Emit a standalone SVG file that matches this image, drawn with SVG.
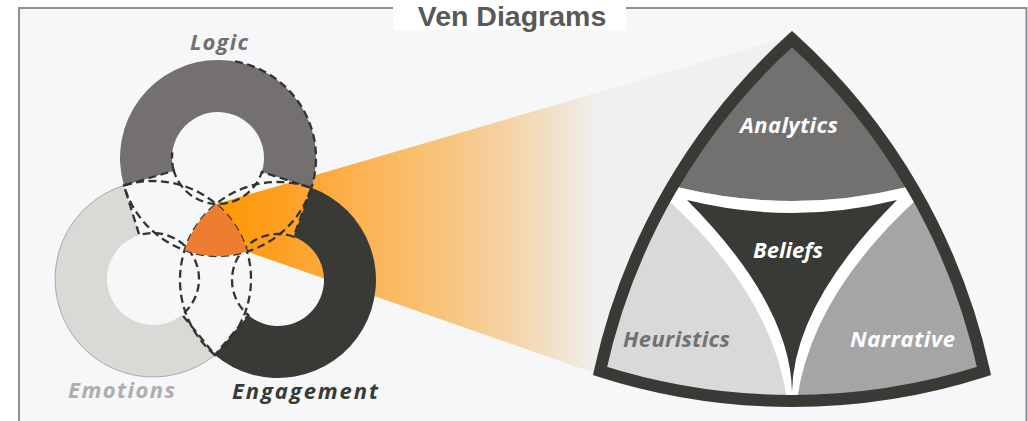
<svg xmlns="http://www.w3.org/2000/svg" width="1028" height="421" viewBox="0 0 1028 421">
  <defs>
    <style>
      .lbl { font-family: "Open Sans", "Liberation Sans", sans-serif; font-weight: 700; font-style: italic; font-size: 22px; }
      .dash { fill: none; stroke: #333333; stroke-width: 2.3; stroke-dasharray: 8 4.5; }
    </style>
    <linearGradient id="beamGrad" gradientUnits="userSpaceOnUse" x1="216" y1="0" x2="600" y2="0">
      <stop offset="0" stop-color="#ff9800"/>
      <stop offset="0.15" stop-color="#fd9e1e"/>
      <stop offset="0.4" stop-color="#fbb557"/>
      <stop offset="0.6" stop-color="#f8c47e"/>
      <stop offset="0.8" stop-color="#f4d7b0"/>
      <stop offset="1" stop-color="#f0f0f0"/>
    </linearGradient>
    <clipPath id="triClip">
      <path d="M792,39 A630,630 0 0 0 600,371 A630,630 0 0 0 984,371 A630,630 0 0 0 792,39 Z"/>
    </clipPath>
  </defs>

  <g id="frame">
    <rect x="19" y="8" width="1007.5" height="430" fill="#f6f7f9" stroke="#8b9095" stroke-width="2"/>
    <rect x="393" y="0" width="233" height="30" fill="#ffffff"/>
    <text x="512" y="26" text-anchor="middle" font-family="Liberation Sans, Arial, sans-serif" font-weight="700" font-size="28.5" fill="#595959">Ven Diagrams</text>
  </g>

  <g id="connectors">
    <polygon id="beam" points="216.1,204 792,36 597,374 247.08,251.58" fill="url(#beamGrad)"/>
  </g>

  <g id="emotions">
    <path d="M214.9,355 A98,98 0 1 1 123.92,185.42 L139.32,235.08 A46,46 0 1 0 182.07,314.65 Z" fill="#d8dad6"/>
    <path d="M214.9,355 A98,98 0 1 1 123.92,185.42" fill="none" stroke="#9a9a9a" stroke-width="0.8"/>
    <text class="lbl" x="68" y="398" textLength="107" lengthAdjust="spacing" fill="#afadad">Emotions</text>
  </g>

  <g id="logic">
    <path d="M123.92,185.42 A98,98 0 1 1 311.35,187.85 L261.82,171.98 A46,46 0 1 0 173.83,170.83 Z" fill="#747070"/>
    <text class="lbl" x="190" y="50" textLength="58" lengthAdjust="spacing" fill="#747070">Logic</text>
  </g>

  <g id="engagement">
    <path d="M311.35,187.85 A98,98 0 1 1 214.9,355 L248.4,315.21 A46,46 0 1 0 293.66,236.75 Z" fill="#383a35"/>
    <text class="lbl" x="232" y="399" textLength="146" lengthAdjust="spacing" fill="#383a35">Engagement</text>
  </g>

  <g id="ghost-outlines">
    <path class="dash" d="M311.35,187.85 A98,98 0 0 1 123.92,185.42 L173.83,170.83 A46,46 0 0 0 261.82,171.98 Z"/>
    <path class="dash" d="M235.02,61.49 A98,98 0 0 1 311.35,187.85"/>
    <path class="dash" d="M173.83,170.83 A46,46 0 0 1 172.34,152.39"/>
    <path class="dash" d="M123.92,185.42 A98,98 0 0 1 214.9,355 L182.07,314.65 A46,46 0 0 0 139.32,235.08 Z"/>
    <path class="dash" d="M214.9,355 A98,98 0 0 1 311.35,187.85 L293.66,236.75 A46,46 0 0 0 248.4,315.21 Z"/>
  </g>

  <g id="intersection">
    <path d="M216.1,204 A98,98 0 0 1 247.08,251.58 A98,98 0 0 1 184.65,250.15 A98,98 0 0 1 216.1,204 Z" fill="#ed7d31"/>
  </g>

  <g id="triangle">
    <g clip-path="url(#triClip)">
      <g id="heuristics">
        <rect x="560" y="0" width="232" height="421" fill="#d9d9d9"/>
      </g>
      <g id="narrative">
        <rect x="792" y="0" width="236" height="421" fill="#a5a5a5"/>
      </g>
      <g id="analytics">
        <path d="M560,160 L677,187 Q792,215 907,187 L1024,160 L1024,0 L560,0 Z" fill="#737070"/>
      </g>
      <path d="M650,175 L677,187 Q792,215 907,187 L934,175 L916,200 Q811.5,296 797,400 L797,410 L787,410 L787,400 Q772.5,296 668,200 Z" fill="#ffffff"/>
      <g id="beliefs">
        <path d="M687,200 Q792,226 897,200 Q793.5,304 792,392 Q790.5,304 687,200 Z" fill="#383a35"/>
      </g>
    </g>
    <path d="M792,39 A630,630 0 0 0 600,371 A630,630 0 0 0 984,371 A630,630 0 0 0 792,39 Z" fill="none" stroke="#383a35" stroke-width="12" stroke-linejoin="miter" stroke-miterlimit="10"/>
    <text class="lbl" x="740" y="133" textLength="98" lengthAdjust="spacing" fill="#ffffff">Analytics</text>
    <text class="lbl" x="753" y="258" textLength="70" lengthAdjust="spacing" fill="#ffffff">Beliefs</text>
    <text class="lbl" x="623" y="347" textLength="107" lengthAdjust="spacing" fill="#737070">Heuristics</text>
    <text class="lbl" x="850" y="347" textLength="105" lengthAdjust="spacing" fill="#ffffff">Narrative</text>
  </g>
</svg>
